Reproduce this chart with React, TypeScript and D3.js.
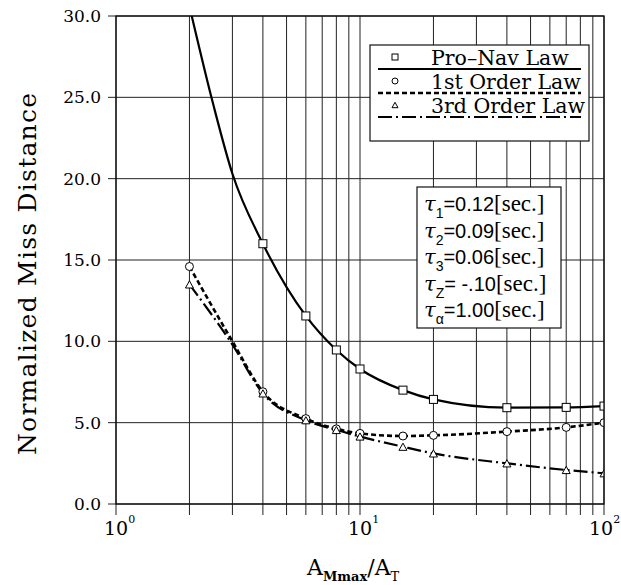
import React, { useEffect, useRef } from "react";
import * as d3 from "d3";

// values
const proNavX = [2, 2.5, 3, 4, 6, 8, 10, 15, 20, 40, 70, 100];
const proNavY = [30.6, 24.6, 20.3, 16.0, 11.56, 9.47, 8.3, 7.0, 6.43, 5.92, 5.94, 6.02];
const firstX = [2, 3, 4, 6, 8, 10, 15, 20, 40, 70, 100];
const firstY = [14.6, 10.0, 6.9, 5.25, 4.62, 4.34, 4.18, 4.22, 4.45, 4.71, 5.0];
const thirdX = [2, 3, 4, 6, 8, 10, 15, 20, 40, 70, 100];
const thirdY = [13.5, 9.8, 6.8, 5.15, 4.55, 4.15, 3.52, 3.11, 2.5, 2.09, 1.89];
// abscissae that carry a marker
const markerX = [2, 4, 6, 8, 10, 15, 20, 40, 70, 100];

const yTicks = [0, 5, 10, 15, 20, 25, 30];
const xDecades = [1, 10, 100];
const legendNames = ["Pro\u2013Nav Law", "1st Order Law", "3rd Order Law"];
const paramSubs = ["1", "2", "3", "Z", "\u03b1"];
const paramValues = ["0.12", "0.09", "0.06", " -.10", "1.00"];

interface Pt { x: number; y: number }

const App: React.FC = (): JSX.Element => {
  const ref = useRef<SVGSVGElement>(null);

  useEffect(() => {
    const W = 621, H = 585;
    const left = 116, right = 604, top = 16, bottom = 504;
    const serif = "'DejaVu Serif', serif";
    const sans = "'Liberation Sans', sans-serif";

    const svg = d3.select(ref.current)
      .attr("width", W)
      .attr("height", H)
      .attr("viewBox", `0 0 ${W} ${H}`);
    svg.selectAll("*").remove();

    const x = d3.scaleLog().domain([1, 100]).range([left, right]);
    const y = d3.scaleLinear().domain([0, 30]).range([bottom, top]);

    svg.append("defs").append("clipPath").attr("id", "plot")
      .append("rect").attr("x", left).attr("y", top)
      .attr("width", right - left).attr("height", bottom - top);

    // vertical grid (log) with ticks below the axis
    const vTicks: number[] = [];
    for (let d = 1; d < 100; d *= 10) for (let k = 1; k <= 10; k++) vTicks.push(d * k);
    svg.append("g").selectAll("line").data(Array.from(new Set(vTicks))).enter().append("line")
      .attr("x1", d => x(d)).attr("x2", d => x(d))
      .attr("y1", top).attr("y2", bottom + 11)
      .attr("stroke", "#222").attr("stroke-width", 1);

    // horizontal grid with ticks left of the axis
    svg.append("g").selectAll("line").data(yTicks).enter().append("line")
      .attr("x1", left - 8).attr("x2", right)
      .attr("y1", d => y(d)).attr("y2", d => y(d))
      .attr("stroke", "#222").attr("stroke-width", 1);

    svg.append("g").selectAll("text").data(yTicks).enter().append("text")
      .attr("x", 101).attr("y", d => y(d)).attr("dy", "0.36em")
      .attr("text-anchor", "end")
      .style("font-family", serif).style("font-size", "17px")
      .text(d => d.toFixed(1));

    // x decade labels 10^n
    const xl = svg.append("g").selectAll("text").data(xDecades).enter().append("text")
      .attr("x", d => x(d) - (d === 100 ? 15 : 12)).attr("y", 535)
      .style("font-family", serif).style("font-size", "19px");
    xl.append("tspan").text("10");
    xl.append("tspan").attr("dy", -12).style("font-size", "11px")
      .text(d => String(Math.round(Math.log10(d))));

    // axis titles
    const xt = svg.append("text").attr("x", 307).attr("y", 575)
      .style("font-family", serif).style("font-size", "22px");
    xt.append("tspan").text("A");
    xt.append("tspan").attr("dy", 6).style("font-size", "13px").style("font-weight", "bold").text("Mmax");
    xt.append("tspan").attr("dy", -6).text("/A");
    xt.append("tspan").attr("dy", 6).style("font-size", "13px").text("T");

    svg.append("text")
      .attr("transform", "translate(36,274) rotate(-90)")
      .attr("text-anchor", "middle")
      .attr("textLength", 362).attr("lengthAdjust", "spacing")
      .style("font-family", serif).style("font-size", "25px")
      .text("Normalized Miss Distance");

    // curves
    const line = d3.line<Pt>().x(d => x(d.x)).y(d => y(d.y)).curve(d3.curveMonotoneX);
    const series = [
      { xs: proNavX, ys: proNavY, dash: null, width: 2.2, marker: "square" },
      { xs: firstX, ys: firstY, dash: "5,3", width: 2.6, marker: "circle" },
      { xs: thirdX, ys: thirdY, dash: "14,4,2,4", width: 2.2, marker: "triangle" },
    ];
    const plot = svg.append("g").attr("clip-path", "url(#plot)");

    const drawMarker = (g: any, kind: string, cx: number, cy: number, s: number) => {
      if (kind === "square") {
        g.append("rect").attr("x", cx - s / 2).attr("y", cy - s / 2).attr("width", s).attr("height", s)
          .attr("fill", "#fff").attr("stroke", "#000").attr("stroke-width", 1);
      } else if (kind === "circle") {
        g.append("circle").attr("cx", cx).attr("cy", cy).attr("r", s / 2)
          .attr("fill", "#fff").attr("stroke", "#000").attr("stroke-width", 1);
      } else {
        const h = s * 0.9;
        g.append("path")
          .attr("d", `M${cx},${cy - h / 2}L${cx + s / 2},${cy + h / 2}L${cx - s / 2},${cy + h / 2}Z`)
          .attr("fill", "#fff").attr("stroke", "#000").attr("stroke-width", 1);
      }
    };

    series.forEach(s => {
      const pts: Pt[] = s.xs.map((v, i) => ({ x: v, y: s.ys[i] }));
      plot.append("path").datum(pts)
        .attr("d", line)
        .attr("fill", "none").attr("stroke", "#000")
        .attr("stroke-width", s.width)
        .attr("stroke-dasharray", s.dash);
    });
    series.forEach(s => {
      s.xs.forEach((v, i) => {
        if (markerX.indexOf(v) < 0) return;
        drawMarker(plot, s.marker, x(v), y(s.ys[i]), 8);
      });
    });

    // frame
    svg.append("rect").attr("x", left).attr("y", top)
      .attr("width", right - left).attr("height", bottom - top)
      .attr("fill", "none").attr("stroke", "#111").attr("stroke-width", 1.3);

    // legend
    const lg = svg.append("g");
    lg.append("rect").attr("x", 370).attr("y", 45).attr("width", 219).attr("height", 96)
      .attr("fill", "#fff").attr("stroke", "#111").attr("stroke-width", 1.2);
    const lineYs = [69, 93, 117];
    series.forEach((s, i) => {
      lg.append("line").attr("x1", 378).attr("x2", 581)
        .attr("y1", lineYs[i]).attr("y2", lineYs[i])
        .attr("stroke", "#000").attr("stroke-width", s.width)
        .attr("stroke-dasharray", s.dash);
      drawMarker(lg, s.marker, 395, lineYs[i] - 12, 6);
      lg.append("text").attr("x", 431).attr("y", lineYs[i] - 4)
        .style("font-family", serif).style("font-size", "20.5px")
        .text(legendNames[i]);
    });

    // parameter box
    const pb = svg.append("g");
    pb.append("rect").attr("x", 417).attr("y", 187).attr("width", 144).attr("height", 141)
      .attr("fill", "#fff").attr("stroke", "#111").attr("stroke-width", 1.2);
    paramSubs.forEach((sub, i) => {
      const t = pb.append("text").attr("x", 424).attr("y", 211 + i * 26.5)
        .style("font-family", serif).style("font-size", "21px");
      t.append("tspan").style("font-style", "italic").text("\u03c4");
      t.append("tspan").attr("dy", 7).style("font-size", "14px")
        .style("font-family", sans).text(sub);
      t.append("tspan").attr("dy", -7).style("font-family", sans)
        .style("font-size", "20px").text("=" + paramValues[i]);
      t.append("tspan").style("font-family", "'Liberation Serif', serif").style("font-size", "23px")
        .text("[sec.]");
    });
  });

  return (
    <div style={{ position: "absolute", left: 0, top: 0 }}>
      <svg ref={ref} style={{ display: "block", background: "#fff" }}></svg>
    </div>
  );
};

export default App;
